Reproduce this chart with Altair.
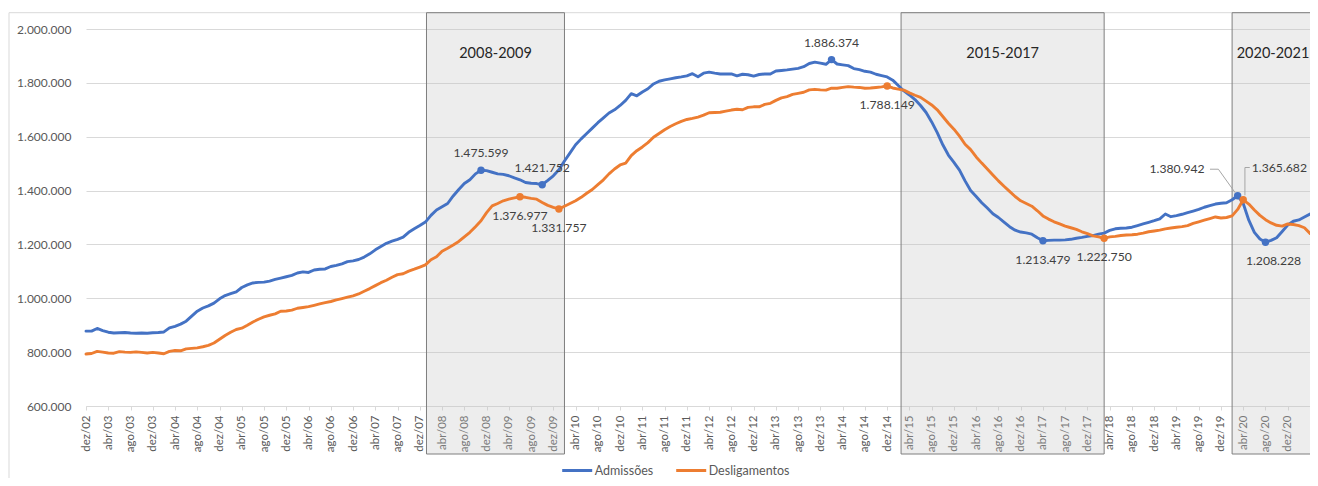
import altair as alt
import pandas as pd

# ---------------- data ----------------
tick_labels = [
    "dez/02", "abr/03", "ago/03", "dez/03", "abr/04", "ago/04", "dez/04", "abr/05", "ago/05", "dez/05",
    "abr/06", "ago/06", "dez/06", "abr/07", "ago/07", "dez/07", "abr/08", "ago/08", "dez/08", "abr/09",
    "ago/09", "dez/09", "abr/10", "ago/10", "dez/10", "abr/11", "ago/11", "dez/11", "abr/12", "ago/12",
    "dez/12", "abr/13", "ago/13", "dez/13", "abr/14", "ago/14", "dez/14", "abr/15", "ago/15", "dez/15",
    "abr/16", "ago/16", "dez/16", "abr/17", "ago/17", "dez/17", "abr/18", "ago/18", "dez/18", "abr/19",
    "ago/19", "dez/19", "abr/20", "ago/20", "dez/20",
]

# monthly values (thousands), dez/02 .. abr/21
admissoes_mil = [
    878, 878, 888, 880, 874, 871, 872, 873, 871, 870,
    871, 870, 872, 873, 875, 890, 896, 904, 915, 934,
    952, 964, 972, 982, 998, 1010, 1017, 1024, 1040, 1050,
    1057, 1059, 1060, 1064, 1070, 1075, 1080, 1085, 1094, 1098,
    1096, 1105, 1108, 1109, 1118, 1122, 1128, 1136, 1139, 1144,
    1153, 1165, 1180, 1192, 1204, 1212, 1219, 1227, 1245, 1258,
    1270, 1283, 1308, 1328, 1340, 1352, 1380, 1404, 1426, 1440,
    1462, 1475.599, 1474, 1468, 1462, 1460, 1455, 1447, 1440, 1430,
    1427, 1426, 1421.752, 1438, 1455, 1477, 1510, 1540, 1570, 1592,
    1612, 1632, 1652, 1670, 1688, 1700, 1716, 1735, 1760, 1752,
    1766, 1778, 1796, 1806, 1811, 1815, 1819, 1822, 1826, 1834,
    1823, 1836, 1840, 1836, 1833, 1833, 1833, 1826, 1832, 1830,
    1825, 1831, 1833, 1833, 1844, 1846, 1848, 1851, 1854, 1860,
    1872, 1877, 1873, 1869, 1886.374, 1870, 1867, 1864, 1853, 1849,
    1843, 1840, 1832, 1827, 1822, 1810, 1790, 1770, 1755, 1738,
    1716, 1690, 1655, 1615, 1570, 1532, 1505, 1476, 1436, 1400,
    1378, 1355, 1335, 1314, 1300, 1283, 1266, 1253, 1246, 1243,
    1238, 1225, 1213.479, 1215, 1216, 1216, 1217, 1219, 1223, 1226,
    1230, 1233, 1238, 1242, 1252, 1258, 1260, 1261, 1264, 1270,
    1276, 1282, 1288, 1295, 1313, 1303, 1307, 1312, 1318, 1324,
    1330, 1338, 1344, 1350, 1353, 1355, 1366, 1380.942, 1352, 1290,
    1245, 1220, 1208.228, 1215, 1225, 1248, 1272, 1286, 1291, 1302,
    1313,
]

desligamentos_mil = [
    793, 795, 803, 800, 797, 796, 802, 800, 799, 801,
    799, 797, 799, 797, 794, 803, 806, 805, 812, 814,
    816, 820, 825, 834, 848, 862, 874, 884, 889, 900,
    912, 922, 931, 937, 942, 952, 953, 956, 963, 966,
    969, 974, 979, 984, 988, 994, 999, 1004, 1009, 1016,
    1026, 1036, 1047, 1058, 1067, 1078, 1088, 1091, 1101, 1108,
    1116, 1124, 1143, 1154, 1175, 1186, 1198, 1211, 1228, 1245,
    1266, 1288, 1318, 1343, 1352, 1362, 1368, 1373, 1376.977, 1375,
    1371, 1368, 1356, 1345, 1338, 1331.757, 1342, 1352, 1362, 1375,
    1390, 1404, 1422, 1440, 1462, 1480, 1495, 1502, 1530, 1548,
    1562, 1578, 1598, 1612, 1626, 1638, 1648, 1657, 1664, 1668,
    1673, 1680, 1689, 1690, 1691, 1695, 1699, 1702, 1700, 1709,
    1711, 1711, 1720, 1724, 1735, 1744, 1749, 1757, 1761, 1765,
    1774, 1776, 1774, 1773, 1780, 1780, 1783, 1786, 1784, 1783,
    1780, 1781, 1783, 1785, 1788.149, 1781, 1777, 1773, 1763, 1754,
    1746, 1732, 1718, 1700, 1675, 1650, 1628, 1602, 1572, 1552,
    1525, 1502, 1480, 1458, 1436, 1416, 1397, 1378, 1362, 1352,
    1342, 1325, 1306, 1294, 1284, 1276, 1268, 1262, 1256, 1247,
    1240, 1232, 1228, 1222.75, 1228, 1230, 1233, 1235, 1236, 1238,
    1242, 1247, 1250, 1253, 1258, 1261, 1264, 1266, 1270, 1278,
    1284, 1290, 1296, 1302, 1298, 1300, 1306, 1330, 1365.682, 1350,
    1328, 1308, 1292, 1280, 1271, 1268, 1276, 1274, 1270, 1262,
    1241,
]

series_names = ["Admissões", "Desligamentos"]
series_colors = ["#4472C4", "#ED7D31"]

band_labels = ["2008-2009", "2015-2017", "2020-2021"]
band_start = [61.2, 146.5, 206.0]
band_end = [86.0, 183.0, 220.7]

# annotated points (month index)
adm_above = [71, 82, 134]
adm_below = [172]
adm_below_right = [212]
adm_callout = [207]
des_below = [78, 85, 144, 183]
des_callout = [208]

# ---------------- tables ----------------
adm = [int(round(v * 1000)) for v in admissoes_mil]
des = [int(round(v * 1000)) for v in desligamentos_mil]


def fmt(v):
    return f"{v:,}".replace(",", ".")


df = pd.DataFrame({
    "idx": list(range(len(adm))) + list(range(len(des))),
    "serie": [series_names[0]] * len(adm) + [series_names[1]] * len(des),
    "valor": adm + des,
})


def pts(values, idxs):
    return pd.DataFrame({
        "idx": idxs,
        "valor": [values[i] for i in idxs],
        "rotulo": [fmt(values[i]) for i in idxs],
    })


bands = pd.DataFrame({"label": band_labels, "start": band_start, "end": band_end})
bands["mid"] = (bands["start"] + bands["end"]) / 2
one = pd.DataFrame({"a": [0]})

# ---------------- scales / axes ----------------
FONT = "Lato"
xscale = alt.Scale(domain=[0, 220], nice=False, zero=False)
yscale = alt.Scale(domain=[600000, 2000000], nice=False, zero=False)

xlabel_expr = "[" + ",".join(f"'{t}'" for t in tick_labels) + "][round(datum.value / 4)]"
x_axis = alt.Axis(
    values=list(range(0, 4 * len(tick_labels), 4)), labelExpr=xlabel_expr,
    labelAngle=270, labelAlign="right", labelBaseline="middle", labelPadding=5,
    labelFont=FONT, labelFontSize=11.5, labelColor="#595959", labelOverlap=False,
    tickSize=4, tickColor="#d9d9d9", domainColor="#d9d9d9", grid=False, title=None,
)
y_axis = alt.Axis(
    values=list(range(600000, 2000001, 200000)),
    labelExpr="replace(replace(format(datum.value, ','), ',', '.'), ',', '.')",
    grid=True, gridColor="#d9d9d9", gridWidth=1, domain=False, ticks=False,
    labelPadding=15, labelFont=FONT, labelFontSize=12, labelColor="#595959", title=None,
)

X = alt.X("idx:Q", scale=xscale, axis=x_axis)
Y = alt.Y("valor:Q", scale=yscale, axis=y_axis)

# ---------------- layers ----------------
border = alt.Chart(one).mark_rect(fillOpacity=0, stroke="#d9d9d9", strokeWidth=1).encode(
    x=alt.value(-77), x2=alt.value(1400), y=alt.value(-16.3), y2=alt.value(600)
)

band_rects = alt.Chart(bands).mark_rect(
    fill="#c4c4c4", fillOpacity=0.3, stroke="#7f7f7f", strokeWidth=1
).encode(
    x=alt.X("start:Q", scale=xscale, axis=x_axis), x2="end:Q",
    y=alt.value(-16.3), y2=alt.value(425),
)

lines = alt.Chart(df).mark_line(strokeWidth=2.9, strokeJoin="round", strokeCap="round").encode(
    x=X, y=Y,
    color=alt.Color(
        "serie:N",
        scale=alt.Scale(domain=series_names, range=series_colors),
        legend=alt.Legend(
            orient="none", legendX=474.7, legendY=425, direction="horizontal", title=None,
            symbolType="stroke", symbolSize=900, symbolStrokeWidth=3,
            labelFont=FONT, labelFontSize=12.5, labelColor="#595959",
            columnPadding=16, labelOffset=1, padding=0,
        ),
    ),
)


def markers(values, idxs, color):
    return alt.Chart(pts(values, idxs)).mark_circle(size=55, opacity=1, color=color).encode(x=X, y=Y)


def labels(values, idxs, **kw):
    return alt.Chart(pts(values, idxs)).mark_text(
        font=FONT, fontSize=12.2, color="#404040", baseline="middle", **kw
    ).encode(x=X, y=Y, text="rotulo:N")


def leader(values, idxs, xo, x2o, yo, y2o):
    return alt.Chart(pts(values, idxs)).mark_rule(
        color="#a6a6a6", strokeWidth=1, xOffset=xo, x2Offset=x2o, yOffset=yo, y2Offset=y2o
    ).encode(x=X, x2=alt.X2("idx"), y=Y, y2=alt.Y2("valor"))


m_adm = markers(adm, adm_above + adm_below + adm_below_right + adm_callout, series_colors[0])
m_des = markers(des, des_below + des_callout, series_colors[1])

l1 = labels(adm, adm_above, align="center", dy=-17)
l2 = labels(adm, adm_below, align="center", dy=19)
l3 = labels(adm, adm_below_right, align="center", dy=19, dx=8)
l4 = labels(des, des_below, align="center", dy=19)
l5 = labels(adm, adm_callout, align="right", dx=-33, dy=-26.5)
l6 = labels(des, des_callout, align="left", dx=8.5, dy=-32.3)

ld1 = leader(adm, adm_callout, -27.7, -19.3, -26.5, -26.5)
ld2 = leader(adm, adm_callout, -19.3, -2.5, -26.5, -3)
ld3 = leader(des, des_callout, 6.5, 1.7, -32.3, -32.3)
ld4 = leader(des, des_callout, 1.7, 1.7, -32.3, -4.5)

band_text = alt.Chart(bands).mark_text(
    font=FONT, fontSize=14.5, color="#262626", baseline="middle", align="center"
).encode(x=alt.X("mid:Q", scale=xscale, axis=x_axis), y=alt.value(24.5), text="label:N")

chart = alt.layer(
    border, band_rects, lines, m_adm, m_des, ld1, ld2, ld3, ld4,
    l1, l2, l3, l4, l5, l6, band_text,
).properties(
    width=1224, height=377,
    padding={"left": 78, "top": 21, "right": 0, "bottom": 72},
    autosize=alt.AutoSizeParams(type="none"),
).configure_view(stroke=None)

chart.save("out.html", embed_options={"renderer": "svg", "actions": False})
